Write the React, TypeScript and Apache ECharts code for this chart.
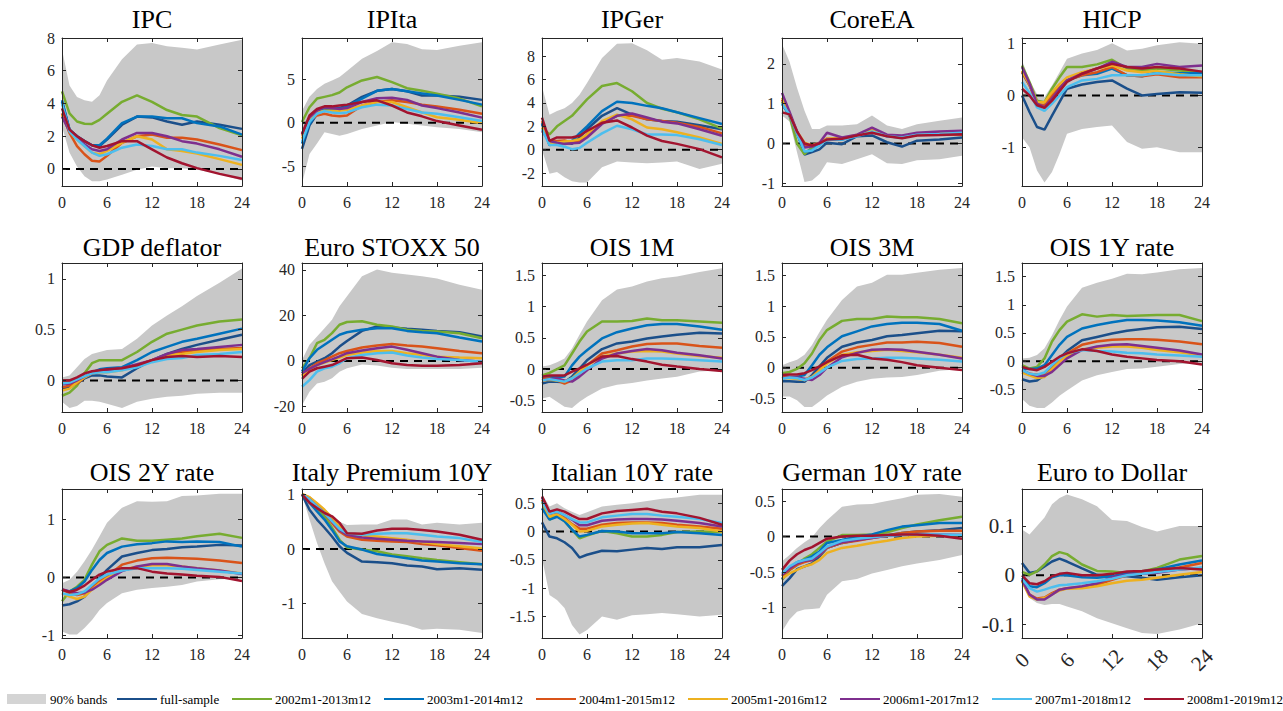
import React, { useEffect, useRef } from "react";
import * as echarts from "echarts";

// Horizon (months) at which responses are read
const MONTHS = [0, 1, 2, 3, 4, 5, 6, 8, 10, 12, 14, 16, 18, 21, 24];

const SERIES_NAMES = [
  "full-sample",
  "2002m1-2013m12",
  "2003m1-2014m12",
  "2004m1-2015m12",
  "2005m1-2016m12",
  "2006m1-2017m12",
  "2007m1-2018m12",
  "2008m1-2019m12",
];
const SERIES_COLORS = ["#1b4f8a", "#77ac30", "#0072bd", "#d95319", "#edb120", "#7e2f8e", "#4dbeee", "#a2142f"];
const BAND_NAME = "90% bands";

// ---- IPC ----
const IPC_LINES = [
  [4.1, 2.4, 2.0, 1.7, 1.45, 1.4, 1.8, 2.7, 3.2, 3.15, 2.9, 2.7, 2.9, 2.7, 2.45],
  [4.74, 3.4, 2.9, 2.76, 2.75, 3.0, 3.37, 4.1, 4.5, 4.1, 3.6, 3.3, 3.2, 2.5, 2.05],
  [4.2, 2.4, 2.0, 1.7, 1.45, 1.45, 1.85, 2.8, 3.2, 3.2, 3.1, 3.1, 2.8, 2.6, 2.1],
  [3.4, 2.2, 1.4, 0.9, 0.5, 0.45, 0.8, 1.6, 2.0, 2.1, 1.9, 1.9, 1.8, 1.5, 1.15],
  [3.3, 2.3, 1.8, 1.4, 1.0, 0.9, 1.1, 1.6, 2.0, 1.8, 1.2, 1.1, 0.95, 0.6, 0.25],
  [3.2, 2.3, 1.9, 1.5, 1.2, 1.1, 1.2, 1.8, 2.2, 2.2, 2.0, 1.7, 1.55, 1.2, 0.75],
  [4.0, 2.3, 1.8, 1.4, 1.0, 0.8, 0.9, 1.3, 1.5, 1.4, 1.2, 1.2, 1.0, 0.8, 0.55],
  [3.7, 2.4, 2.0, 1.7, 1.45, 1.3, 1.4, 1.7, 1.7, 1.2, 0.7, 0.35, 0.05, -0.3, -0.6],
];
const IPC_HI = [7.3, 5.1, 4.4, 4.2, 4.1, 4.5, 5.4, 6.7, 7.6, 7.7, 7.5, 7.4, 7.3, 7.6, 7.9];
const IPC_LO = [2.6, 1.0, 0.15, -0.45, -0.75, -0.75, -0.65, -0.35, -0.05, 0.15, 0.05, 0.05, -0.05, -0.3, -0.7];

// ---- IPIta ----
const IPITA_LINES = [
  [-3.0, -0.3, 1.0, 1.6, 1.6, 1.7, 2.0, 3.0, 3.7, 3.9, 3.65, 3.15, 3.15, 3.0, 2.65],
  [0.1, 1.8, 2.8, 3.0, 3.2, 3.5, 4.1, 4.9, 5.3, 4.7, 4.0, 3.7, 3.35, 2.8, 1.9],
  [-2.4, -0.1, 1.2, 1.7, 1.7, 1.6, 1.9, 2.8, 3.7, 3.9, 3.65, 3.4, 3.15, 2.65, 2.1],
  [-1.5, 0.3, 0.85, 1.05, 0.85, 0.75, 0.85, 2.0, 2.4, 2.6, 2.4, 2.1, 1.9, 1.5, 1.05],
  [-1.85, 0.3, 1.2, 1.4, 1.4, 1.4, 1.5, 2.0, 2.4, 2.4, 1.8, 1.2, 0.65, 0.35, -0.05],
  [-1.3, 0.65, 1.4, 1.8, 1.7, 1.6, 1.7, 2.4, 2.85, 2.9, 2.65, 2.0, 1.7, 1.2, 0.6],
  [-2.2, 0.1, 1.05, 1.35, 1.2, 1.1, 1.2, 1.8, 2.1, 2.0, 1.6, 1.2, 1.05, 0.65, 0.2],
  [-1.3, 0.85, 1.6, 1.9, 1.9, 2.0, 2.1, 2.4, 2.6, 2.0, 1.2, 0.75, 0.2, -0.3, -0.8],
];
const IPITA_HI = [1.4, 3.0, 3.9, 4.5, 4.9, 5.3, 6.0, 7.4, 8.3, 9.3, 9.1, 8.5, 8.4, 8.9, 9.3];
const IPITA_LO = [-7.0, -3.6, -2.4, -1.1, -1.3, -1.5, -1.3, -0.7, -0.3, 0.1, -0.1, -0.3, -0.5, -0.7, -1.1];

// ---- IPGer ----
const IPGER_LINES = [
  [2.2, 0.4, 0.5, 0.6, 0.5, 1.05, 1.75, 2.9, 3.55, 3.0, 2.6, 2.45, 2.4, 2.1, 1.75],
  [1.9, 1.3, 2.0, 2.45, 2.9, 3.6, 4.3, 5.45, 5.7, 5.0, 4.0, 3.5, 3.2, 2.6, 1.8],
  [2.3, 0.5, 0.5, 0.6, 0.75, 1.4, 2.0, 3.3, 4.1, 4.0, 3.75, 3.55, 3.2, 2.7, 2.2],
  [2.45, 0.75, 0.75, 0.8, 0.6, 0.75, 1.3, 2.3, 2.9, 2.9, 2.6, 2.45, 2.3, 1.95, 1.4],
  [1.9, 0.6, 0.6, 0.7, 0.75, 0.9, 1.3, 2.45, 3.0, 2.6, 1.9, 1.75, 1.5, 1.05, 0.5],
  [1.6, 0.75, 0.6, 0.5, 0.55, 0.6, 1.05, 2.2, 2.9, 3.1, 2.75, 2.4, 2.25, 1.75, 1.2],
  [1.75, 0.4, 0.4, 0.25, 0.05, 0.15, 0.6, 1.4, 2.05, 1.75, 1.3, 1.3, 1.25, 0.9, 0.4],
  [2.75, 0.75, 1.05, 1.05, 1.05, 1.2, 1.6, 2.3, 2.5, 1.9, 1.2, 0.75, 0.5, 0.05, -0.65],
];
const IPGER_HI = [5.4, 3.0, 3.3, 3.55, 4.0, 4.7, 5.7, 7.85, 9.05, 9.1, 8.5, 7.7, 7.85, 7.55, 6.85];
const IPGER_LO = [0.0, -2.05, -1.9, -2.35, -2.7, -2.8, -2.8, -1.5, -1.0, -1.1, -1.15, -1.1, -1.0, -1.65, -1.2];

// ---- CoreEA ----
const COREEA_LINES = [
  [1.0, 0.7, 0.3, -0.28, -0.22, -0.15, 0.02, -0.02, 0.18, 0.2, 0.03, -0.08, 0.07, 0.1, 0.15],
  [1.05, 0.7, 0.0, -0.27, -0.1, 0.0, 0.1, 0.12, 0.2, 0.33, 0.2, 0.15, 0.22, 0.24, 0.25],
  [1.0, 0.72, 0.25, -0.2, -0.18, -0.02, 0.1, 0.1, 0.2, 0.33, 0.18, 0.15, 0.22, 0.24, 0.26],
  [1.1, 0.72, 0.25, -0.05, -0.05, 0.0, 0.12, 0.12, 0.2, 0.33, 0.2, 0.15, 0.22, 0.23, 0.22],
  [1.15, 0.75, 0.3, 0.02, -0.05, 0.02, 0.12, 0.13, 0.22, 0.35, 0.2, 0.17, 0.24, 0.25, 0.26],
  [1.27, 0.8, 0.3, -0.1, -0.08, 0.02, 0.27, 0.15, 0.22, 0.4, 0.22, 0.2, 0.27, 0.3, 0.32],
  [1.0, 0.72, 0.25, -0.2, -0.18, -0.05, 0.1, 0.1, 0.18, 0.3, 0.18, 0.15, 0.22, 0.24, 0.27],
  [0.78, 0.73, 0.3, 0.0, -0.05, 0.0, 0.1, 0.12, 0.2, 0.27, 0.18, 0.13, 0.2, 0.21, 0.23],
];
const COREEA_HI = [2.5, 2.05, 1.4, 0.82, 0.36, 0.36, 0.45, 0.45, 0.48, 0.7, 0.45, 0.36, 0.48, 0.57, 0.65];
const COREEA_LO = [0.7, 0.55, -0.22, -0.97, -0.93, -0.77, -0.47, -0.52, -0.4, -0.27, -0.5, -0.52, -0.42, -0.4, -0.31];

// ---- HICP ----
const HICP_LINES = [
  [0.0, -0.32, -0.61, -0.66, -0.39, -0.13, 0.13, 0.21, 0.26, 0.29, 0.13, 0.0, 0.03, 0.06, 0.05],
  [0.58, 0.26, -0.1, -0.13, 0.13, 0.35, 0.55, 0.55, 0.6, 0.69, 0.52, 0.48, 0.52, 0.48, 0.45],
  [0.45, 0.2, -0.16, -0.21, -0.03, 0.15, 0.29, 0.39, 0.42, 0.52, 0.39, 0.37, 0.45, 0.43, 0.43],
  [0.45, 0.2, -0.16, -0.19, 0.0, 0.15, 0.29, 0.39, 0.45, 0.55, 0.39, 0.37, 0.41, 0.35, 0.35],
  [0.48, 0.22, -0.13, -0.13, 0.06, 0.22, 0.35, 0.45, 0.52, 0.58, 0.48, 0.45, 0.47, 0.41, 0.37],
  [0.55, 0.23, -0.16, -0.23, -0.06, 0.13, 0.29, 0.42, 0.52, 0.65, 0.55, 0.55, 0.61, 0.55, 0.58],
  [0.26, 0.05, -0.23, -0.3, -0.16, 0.0, 0.16, 0.29, 0.32, 0.39, 0.39, 0.39, 0.43, 0.39, 0.39],
  [0.13, 0.0, -0.19, -0.24, -0.1, 0.08, 0.26, 0.42, 0.52, 0.61, 0.55, 0.52, 0.55, 0.52, 0.46],
];
const HICP_HI = [0.68, 0.29, 0.03, -0.03, 0.19, 0.45, 0.71, 0.81, 0.88, 1.01, 0.87, 0.9, 0.97, 1.03, 1.0];
const HICP_LO = [-0.81, -1.0, -1.45, -1.68, -1.48, -1.13, -0.74, -0.65, -0.61, -0.58, -0.9, -1.03, -1.0, -1.1, -1.1];

// ---- GDP deflator ----
const GDP_LINES = [
  [-0.08, -0.07, -0.03, 0.02, 0.05, 0.05, 0.04, 0.03, 0.12, 0.2, 0.26, 0.31, 0.35, 0.4, 0.45],
  [-0.15, -0.12, -0.05, 0.07, 0.17, 0.2, 0.2, 0.2, 0.28, 0.38, 0.46, 0.5, 0.54, 0.58, 0.6],
  [-0.03, -0.03, 0.0, 0.03, 0.08, 0.11, 0.12, 0.13, 0.2, 0.28, 0.33, 0.38, 0.41, 0.46, 0.51],
  [-0.07, -0.05, -0.03, 0.03, 0.07, 0.09, 0.1, 0.12, 0.15, 0.2, 0.25, 0.28, 0.3, 0.31, 0.32],
  [-0.1, -0.08, -0.02, 0.03, 0.07, 0.08, 0.08, 0.1, 0.15, 0.2, 0.25, 0.26, 0.28, 0.3, 0.31],
  [-0.04, -0.03, 0.0, 0.04, 0.07, 0.09, 0.1, 0.12, 0.16, 0.2, 0.26, 0.3, 0.31, 0.33, 0.35],
  [-0.03, -0.02, 0.01, 0.04, 0.07, 0.08, 0.08, 0.1, 0.13, 0.18, 0.21, 0.22, 0.25, 0.26, 0.28],
  [0.0, 0.0, 0.03, 0.07, 0.09, 0.1, 0.11, 0.12, 0.15, 0.2, 0.23, 0.24, 0.23, 0.24, 0.23],
];
const GDP_HI = [0.03, 0.05, 0.13, 0.21, 0.26, 0.28, 0.3, 0.31, 0.41, 0.54, 0.64, 0.73, 0.83, 0.96, 1.1];
const GDP_LO = [-0.21, -0.27, -0.25, -0.2, -0.2, -0.21, -0.23, -0.27, -0.21, -0.18, -0.16, -0.15, -0.13, -0.12, -0.12];

// ---- Euro STOXX 50 ----
const STOXX_LINES = [
  [-5.4, -1.8, -0.3, 1.2, 3.4, 6.3, 8.8, 13.2, 15.1, 14.7, 14.1, 13.7, 13.2, 12.6, 10.7],
  [-3.2, 1.2, 7.8, 9.3, 12.2, 15.9, 17.1, 17.4, 15.9, 15.1, 13.7, 13.2, 12.9, 12.2, 10.0],
  [-4.7, 1.2, 4.9, 7.1, 9.3, 11.5, 12.6, 13.7, 14.4, 14.4, 13.2, 12.6, 12.2, 10.3, 8.5],
  [-6.2, -3.2, -1.0, 0.4, 1.9, 3.4, 4.4, 5.9, 6.8, 7.4, 6.8, 6.3, 5.6, 4.4, 3.4],
  [-6.9, -4.0, -1.8, -0.7, 0.4, 1.5, 2.6, 3.7, 4.4, 4.4, 3.4, 2.6, 1.9, 1.5, 1.2],
  [-5.4, -3.5, -1.8, -0.5, 0.7, 2.0, 3.4, 4.6, 5.6, 6.3, 4.9, 3.4, 1.9, 0.4, -0.3],
  [-11.3, -8.4, -4.7, -3.2, -2.5, -1.0, 1.2, 2.6, 3.4, 3.7, 2.4, 1.5, 0.9, 0.4, -0.3],
  [-7.9, -4.7, -3.2, -2.5, -1.8, -0.3, 1.2, 1.5, 0.4, -1.0, -1.8, -2.1, -2.1, -1.8, -1.0],
];
const STOXX_HI = [0.4, 7.1, 10.7, 14.4, 18.1, 24.0, 28.4, 37.2, 40.1, 38.7, 37.9, 37.2, 36.2, 33.5, 31.3];
const STOXX_LO = [-19.4, -13.5, -9.9, -9.1, -7.6, -4.7, -3.2, -1.5, -2.0, -3.0, -3.5, -3.5, -3.5, -3.5, -3.0];

// ---- OIS 1M ----
const OIS1M_LINES = [
  [-0.23, -0.2, -0.2, -0.21, -0.12, 0.01, 0.14, 0.32, 0.41, 0.44, 0.49, 0.52, 0.55, 0.58, 0.57],
  [-0.1, -0.06, 0.0, 0.06, 0.25, 0.44, 0.6, 0.76, 0.76, 0.77, 0.81, 0.78, 0.78, 0.76, 0.74],
  [-0.15, -0.12, -0.13, -0.12, 0.06, 0.2, 0.3, 0.49, 0.59, 0.65, 0.7, 0.72, 0.72, 0.68, 0.63],
  [-0.15, -0.15, -0.18, -0.23, -0.18, -0.07, 0.06, 0.25, 0.3, 0.36, 0.4, 0.41, 0.41, 0.37, 0.34],
  [-0.18, -0.17, -0.18, -0.2, -0.15, -0.04, 0.06, 0.2, 0.25, 0.28, 0.29, 0.28, 0.25, 0.21, 0.18],
  [-0.18, -0.16, -0.15, -0.18, -0.2, -0.12, -0.02, 0.17, 0.25, 0.29, 0.32, 0.3, 0.26, 0.22, 0.17],
  [-0.18, -0.16, -0.18, -0.2, -0.15, -0.07, 0.01, 0.12, 0.14, 0.14, 0.17, 0.17, 0.16, 0.14, 0.12],
  [-0.12, -0.1, -0.1, -0.1, -0.04, 0.01, 0.07, 0.2, 0.21, 0.16, 0.12, 0.07, 0.04, 0.0, -0.03],
];
const OIS1M_HI = [0.04, 0.06, 0.11, 0.17, 0.33, 0.55, 0.76, 1.1, 1.27, 1.32, 1.4, 1.45, 1.48, 1.55, 1.61];
const OIS1M_LO = [-0.47, -0.44, -0.52, -0.6, -0.62, -0.52, -0.44, -0.31, -0.25, -0.22, -0.18, -0.15, -0.12, -0.04, -0.02];

// ---- OIS 3M ----
const OIS3M_LINES = [
  [-0.22, -0.22, -0.23, -0.23, -0.12, 0.02, 0.16, 0.34, 0.41, 0.45, 0.51, 0.53, 0.56, 0.6, 0.59],
  [-0.09, -0.07, -0.02, 0.07, 0.23, 0.45, 0.61, 0.76, 0.79, 0.79, 0.83, 0.82, 0.82, 0.79, 0.72],
  [-0.15, -0.15, -0.15, -0.12, 0.04, 0.21, 0.33, 0.51, 0.59, 0.67, 0.71, 0.73, 0.73, 0.71, 0.6],
  [-0.15, -0.16, -0.17, -0.2, -0.15, -0.04, 0.1, 0.26, 0.33, 0.37, 0.41, 0.41, 0.42, 0.4, 0.34],
  [-0.17, -0.17, -0.18, -0.2, -0.15, -0.05, 0.07, 0.21, 0.25, 0.27, 0.29, 0.27, 0.25, 0.21, 0.16],
  [-0.17, -0.16, -0.16, -0.18, -0.2, -0.12, 0.0, 0.17, 0.24, 0.29, 0.3, 0.29, 0.26, 0.21, 0.15],
  [-0.18, -0.16, -0.17, -0.2, -0.16, -0.08, 0.0, 0.11, 0.14, 0.15, 0.16, 0.16, 0.15, 0.13, 0.1],
  [-0.12, -0.11, -0.11, -0.09, -0.04, 0.02, 0.09, 0.2, 0.21, 0.15, 0.13, 0.09, 0.04, 0.0, -0.04],
];
const OIS3M_HI = [0.04, 0.09, 0.13, 0.21, 0.37, 0.58, 0.78, 1.1, 1.32, 1.38, 1.51, 1.51, 1.54, 1.59, 1.62];
const OIS3M_LO = [-0.47, -0.47, -0.53, -0.64, -0.64, -0.55, -0.45, -0.31, -0.23, -0.18, -0.16, -0.15, -0.12, -0.05, -0.02];

// ---- OIS 1Y rate ----
const OIS1Y_LINES = [
  [-0.32, -0.36, -0.34, -0.25, -0.1, 0.05, 0.18, 0.37, 0.43, 0.49, 0.54, 0.57, 0.6, 0.61, 0.57],
  [-0.07, -0.13, -0.1, 0.05, 0.35, 0.55, 0.7, 0.83, 0.79, 0.82, 0.8, 0.81, 0.82, 0.82, 0.71],
  [-0.13, -0.14, -0.13, -0.07, 0.11, 0.29, 0.43, 0.58, 0.64, 0.69, 0.73, 0.73, 0.72, 0.69, 0.63],
  [-0.19, -0.22, -0.24, -0.22, -0.1, 0.05, 0.14, 0.29, 0.35, 0.38, 0.39, 0.39, 0.38, 0.35, 0.3],
  [-0.2, -0.25, -0.3, -0.28, -0.14, -0.01, 0.1, 0.21, 0.24, 0.26, 0.26, 0.24, 0.2, 0.16, 0.1],
  [-0.16, -0.22, -0.26, -0.26, -0.19, -0.07, 0.05, 0.2, 0.26, 0.29, 0.3, 0.27, 0.24, 0.19, 0.12],
  [-0.16, -0.22, -0.24, -0.2, -0.07, 0.05, 0.14, 0.2, 0.18, 0.17, 0.15, 0.14, 0.12, 0.1, 0.08],
  [-0.1, -0.14, -0.16, -0.1, -0.01, 0.08, 0.14, 0.21, 0.18, 0.12, 0.08, 0.05, 0.02, 0.0, -0.06],
];
const OIS1Y_HI = [0.05, 0.06, 0.11, 0.23, 0.46, 0.73, 0.97, 1.3, 1.39, 1.46, 1.55, 1.54, 1.57, 1.63, 1.65];
const OIS1Y_LO = [-0.67, -0.79, -0.83, -0.83, -0.73, -0.61, -0.52, -0.34, -0.25, -0.19, -0.14, -0.13, -0.1, -0.05, -0.03];

// ---- OIS 2Y rate ----
const OIS2Y_LINES = [
  [-0.48, -0.46, -0.41, -0.33, -0.18, -0.01, 0.13, 0.36, 0.42, 0.47, 0.49, 0.52, 0.53, 0.56, 0.55],
  [-0.41, -0.24, -0.16, -0.04, 0.22, 0.45, 0.56, 0.67, 0.63, 0.63, 0.65, 0.67, 0.71, 0.75, 0.68],
  [-0.21, -0.24, -0.18, -0.07, 0.13, 0.3, 0.42, 0.53, 0.57, 0.59, 0.62, 0.61, 0.62, 0.61, 0.53],
  [-0.21, -0.27, -0.3, -0.27, -0.18, -0.07, 0.02, 0.22, 0.29, 0.33, 0.34, 0.33, 0.32, 0.29, 0.25],
  [-0.27, -0.33, -0.37, -0.33, -0.21, -0.1, -0.01, 0.13, 0.19, 0.21, 0.21, 0.19, 0.16, 0.12, 0.07],
  [-0.2, -0.24, -0.27, -0.26, -0.21, -0.13, -0.04, 0.11, 0.19, 0.23, 0.23, 0.19, 0.16, 0.12, 0.06],
  [-0.27, -0.3, -0.29, -0.24, -0.13, -0.02, 0.05, 0.12, 0.16, 0.16, 0.16, 0.15, 0.13, 0.1, 0.07],
  [-0.21, -0.25, -0.21, -0.14, -0.04, 0.05, 0.1, 0.16, 0.16, 0.1, 0.07, 0.05, 0.03, 0.01, -0.06],
];
const OIS2Y_HI = [-0.1, -0.04, 0.1, 0.28, 0.48, 0.71, 0.94, 1.2, 1.31, 1.3, 1.31, 1.4, 1.41, 1.44, 1.44];
const OIS2Y_LO = [-0.93, -0.98, -0.98, -0.87, -0.73, -0.56, -0.44, -0.27, -0.21, -0.18, -0.16, -0.13, -0.07, -0.03, -0.02];

// ---- Italy Premium 10Y ----
const ITPREM_LINES = [
  [1.0, 0.72, 0.54, 0.39, 0.23, 0.05, -0.07, -0.23, -0.24, -0.26, -0.3, -0.32, -0.37, -0.35, -0.38],
  [1.0, 0.87, 0.75, 0.6, 0.39, 0.17, 0.03, -0.01, -0.04, -0.1, -0.13, -0.17, -0.2, -0.24, -0.28],
  [1.0, 0.85, 0.69, 0.54, 0.35, 0.14, 0.05, -0.01, -0.09, -0.13, -0.17, -0.21, -0.23, -0.26, -0.28],
  [1.0, 0.94, 0.81, 0.66, 0.48, 0.32, 0.23, 0.17, 0.15, 0.14, 0.13, 0.09, 0.07, 0.02, -0.03],
  [1.01, 0.95, 0.84, 0.72, 0.57, 0.42, 0.29, 0.25, 0.23, 0.2, 0.17, 0.13, 0.09, 0.05, 0.01],
  [1.0, 0.91, 0.78, 0.66, 0.51, 0.35, 0.26, 0.21, 0.19, 0.17, 0.15, 0.14, 0.13, 0.11, 0.09],
  [1.0, 0.91, 0.78, 0.66, 0.51, 0.37, 0.29, 0.26, 0.28, 0.29, 0.29, 0.26, 0.23, 0.2, 0.13],
  [1.0, 0.85, 0.75, 0.66, 0.6, 0.48, 0.29, 0.28, 0.34, 0.37, 0.37, 0.35, 0.32, 0.26, 0.17],
];
const ITPREM_HI = [1.0, 0.97, 0.86, 0.74, 0.62, 0.5, 0.44, 0.45, 0.45, 0.54, 0.54, 0.45, 0.48, 0.45, 0.48];
const ITPREM_LO = [1.0, 0.54, 0.11, -0.26, -0.59, -0.78, -0.96, -1.19, -1.27, -1.33, -1.39, -1.48, -1.46, -1.48, -1.54];

// ---- Italian 10Y rate ----
const IT10_LINES = [
  [0.16, -0.09, -0.12, -0.19, -0.29, -0.46, -0.41, -0.34, -0.35, -0.32, -0.29, -0.31, -0.28, -0.28, -0.24],
  [0.53, 0.21, 0.29, 0.18, 0.03, -0.12, -0.07, 0.01, -0.03, -0.09, -0.09, -0.06, -0.01, 0.0, -0.01],
  [0.41, 0.21, 0.26, 0.18, 0.03, -0.09, -0.06, 0.01, 0.0, -0.03, -0.03, -0.03, -0.01, -0.03, -0.06],
  [0.56, 0.29, 0.32, 0.24, 0.13, 0.05, 0.05, 0.12, 0.15, 0.16, 0.16, 0.15, 0.12, 0.09, 0.05],
  [0.53, 0.26, 0.31, 0.22, 0.12, 0.0, 0.01, 0.09, 0.12, 0.14, 0.15, 0.12, 0.09, 0.06, 0.0],
  [0.6, 0.32, 0.35, 0.29, 0.21, 0.11, 0.11, 0.19, 0.21, 0.22, 0.22, 0.21, 0.19, 0.15, 0.09],
  [0.53, 0.31, 0.35, 0.29, 0.22, 0.16, 0.16, 0.25, 0.28, 0.31, 0.31, 0.28, 0.26, 0.22, 0.15],
  [0.62, 0.35, 0.39, 0.35, 0.28, 0.22, 0.22, 0.32, 0.36, 0.38, 0.4, 0.35, 0.32, 0.24, 0.12],
];
const IT10_HI = [0.66, 0.44, 0.5, 0.41, 0.35, 0.29, 0.34, 0.44, 0.47, 0.5, 0.54, 0.58, 0.6, 0.65, 0.65];
const IT10_LO = [-0.47, -1.12, -1.21, -1.35, -1.65, -1.82, -1.74, -1.5, -1.56, -1.48, -1.46, -1.44, -1.46, -1.5, -1.47];

// ---- German 10Y rate ----
const DE10_LINES = [
  [-0.7, -0.59, -0.46, -0.42, -0.38, -0.28, -0.16, -0.09, -0.05, 0.0, 0.02, 0.05, 0.07, 0.09, 0.12],
  [-0.61, -0.47, -0.4, -0.31, -0.25, -0.16, -0.07, 0.02, 0.02, 0.03, 0.06, 0.12, 0.17, 0.23, 0.28],
  [-0.6, -0.47, -0.36, -0.33, -0.28, -0.21, -0.09, -0.05, 0.0, 0.03, 0.09, 0.14, 0.16, 0.19, 0.19],
  [-0.56, -0.47, -0.4, -0.36, -0.33, -0.26, -0.16, -0.09, -0.06, -0.02, 0.01, 0.05, 0.07, 0.08, 0.08],
  [-0.59, -0.52, -0.47, -0.42, -0.39, -0.33, -0.23, -0.16, -0.13, -0.09, -0.06, -0.02, 0.0, 0.01, 0.02],
  [-0.54, -0.45, -0.38, -0.34, -0.33, -0.26, -0.15, -0.08, -0.05, -0.02, 0.01, 0.02, 0.03, 0.03, 0.02],
  [-0.52, -0.42, -0.36, -0.33, -0.31, -0.23, -0.14, -0.06, -0.03, -0.01, 0.01, 0.02, 0.03, 0.03, 0.02],
  [-0.47, -0.34, -0.25, -0.19, -0.15, -0.09, -0.03, 0.0, 0.01, 0.01, 0.02, 0.03, 0.03, 0.01, -0.03],
];
const DE10_HI = [-0.35, -0.26, -0.16, -0.08, -0.01, 0.12, 0.23, 0.42, 0.45, 0.46, 0.5, 0.54, 0.59, 0.6, 0.56];
const DE10_LO = [-1.34, -1.17, -1.06, -1.03, -1.02, -1.01, -0.82, -0.63, -0.6, -0.52, -0.47, -0.42, -0.38, -0.33, -0.26];

// ---- Euro to Dollar ----
const EURUSD_LINES = [
  [0.025, 0.005, 0.008, 0.018, 0.028, 0.034, 0.028, 0.014, 0.001, -0.002, -0.002, -0.005, -0.009, -0.004, 0.0],
  [0.007, 0.001, 0.008, 0.022, 0.039, 0.047, 0.043, 0.022, 0.009, 0.008, 0.005, 0.008, 0.015, 0.032, 0.039],
  [-0.005, -0.022, -0.024, -0.016, -0.004, 0.0, 0.0, -0.004, -0.005, -0.002, 0.005, 0.008, 0.012, 0.022, 0.03],
  [-0.011, -0.039, -0.047, -0.045, -0.036, -0.029, -0.026, -0.024, -0.019, -0.009, 0.0, 0.005, 0.008, 0.016, 0.025],
  [-0.012, -0.043, -0.049, -0.046, -0.038, -0.031, -0.027, -0.026, -0.022, -0.016, -0.011, -0.009, -0.005, 0.001, 0.007],
  [-0.009, -0.039, -0.049, -0.049, -0.039, -0.029, -0.026, -0.022, -0.016, -0.004, 0.001, 0.003, 0.005, 0.012, 0.015],
  [-0.007, -0.026, -0.033, -0.029, -0.024, -0.02, -0.019, -0.016, -0.012, -0.007, 0.0, 0.003, 0.007, 0.012, 0.016],
  [0.0, -0.016, -0.018, -0.012, -0.002, 0.003, 0.005, 0.0, 0.0, 0.003, 0.008, 0.009, 0.012, 0.015, 0.012],
];
const EURUSD_HI = [0.093, 0.083, 0.1, 0.117, 0.144, 0.157, 0.164, 0.154, 0.14, 0.112, 0.11, 0.098, 0.089, 0.1, 0.1];
const EURUSD_LO = [-0.016, -0.046, -0.056, -0.06, -0.058, -0.058, -0.063, -0.073, -0.087, -0.097, -0.107, -0.117, -0.119, -0.11, -0.097];

// ---- y-axis ranges and tick labels per panel ----
const PANELS = [
  { title: "IPC", lines: IPC_LINES, hi: IPC_HI, lo: IPC_LO, yMin: -1.04, yMax: 8, yTicks: [0, 2, 4, 6, 8] },
  { title: "IPIta", lines: IPITA_LINES, hi: IPITA_HI, lo: IPITA_LO, yMin: -7.3, yMax: 9.8, yTicks: [-5, 0, 5] },
  { title: "IPGer", lines: IPGER_LINES, hi: IPGER_HI, lo: IPGER_LO, yMin: -3.1, yMax: 9.55, yTicks: [-2, 0, 2, 4, 6, 8] },
  { title: "CoreEA", lines: COREEA_LINES, hi: COREEA_HI, lo: COREEA_LO, yMin: -1.07, yMax: 2.65, yTicks: [-1, 0, 1, 2] },
  { title: "HICP", lines: HICP_LINES, hi: HICP_HI, lo: HICP_LO, yMin: -1.75, yMax: 1.11, yTicks: [-1, 0, 1] },
  { title: "GDP deflator", lines: GDP_LINES, hi: GDP_HI, lo: GDP_LO, yMin: -0.31, yMax: 1.155, yTicks: [0, 0.5, 1] },
  { title: "Euro STOXX 50", lines: STOXX_LINES, hi: STOXX_HI, lo: STOXX_LO, yMin: -22.4, yMax: 43, yTicks: [-20, 0, 20, 40] },
  { title: "OIS 1M", lines: OIS1M_LINES, hi: OIS1M_HI, lo: OIS1M_LO, yMin: -0.685, yMax: 1.695, yTicks: [-0.5, 0, 0.5, 1, 1.5] },
  { title: "OIS 3M", lines: OIS3M_LINES, hi: OIS3M_HI, lo: OIS3M_LO, yMin: -0.72, yMax: 1.7, yTicks: [-0.5, 0, 0.5, 1, 1.5] },
  { title: "OIS 1Y rate", lines: OIS1Y_LINES, hi: OIS1Y_HI, lo: OIS1Y_LO, yMin: -0.9, yMax: 1.74, yTicks: [-0.5, 0, 0.5, 1, 1.5] },
  { title: "OIS 2Y rate", lines: OIS2Y_LINES, hi: OIS2Y_HI, lo: OIS2Y_LO, yMin: -1.04, yMax: 1.52, yTicks: [-1, 0, 1] },
  { title: "Italy Premium 10Y", lines: ITPREM_LINES, hi: ITPREM_HI, lo: ITPREM_LO, yMin: -1.63, yMax: 1.1, yTicks: [-1, 0, 1] },
  { title: "Italian 10Y rate", lines: IT10_LINES, hi: IT10_HI, lo: IT10_LO, yMin: -1.88, yMax: 0.75, yTicks: [-1.5, -1, -0.5, 0, 0.5] },
  { title: "German 10Y rate", lines: DE10_LINES, hi: DE10_HI, lo: DE10_LO, yMin: -1.43, yMax: 0.67, yTicks: [-1, -0.5, 0, 0.5] },
  { title: "Euro to Dollar", lines: EURUSD_LINES, hi: EURUSD_HI, lo: EURUSD_LO, yMin: -0.127, yMax: 0.175, yTicks: [-0.1, 0, 0.1], big: true },
];

// ---- layout ----
const COL_LEFT = [62, 302, 542, 782, 1022];
const ROW_TOP = [38, 263, 489];
const ROW_H = [148, 149, 149];
const PLOT_W = 180;
const TITLE_Y = [19, 247, 472];
const FONT = "Liberation Serif";
const AXIS_COLOR = "#262626";
const BAND_COLOR = "#c8c8c8";
const LEGEND_BAND_COLOR = "#d4d4d4";
const LEGEND_LINE_X = [117, 232, 384, 536, 688, 840, 992, 1144];
const LEGEND_Y = 699;

function buildOption() {
  const grid: any[] = [];
  const xAxis: any[] = [];
  const yAxis: any[] = [];
  const series: any[] = [];
  const graphic: any[] = [];

  PANELS.forEach((p: any, i) => {
    const r = Math.floor(i / 5);
    const c = i % 5;
    grid.push({ left: COL_LEFT[c], top: ROW_TOP[r], width: PLOT_W, height: ROW_H[r], show: false });
    const axisLine = { show: true, onZero: false, lineStyle: { color: AXIS_COLOR, width: 1 } };
    const tick = { show: true, inside: true, length: 4, lineStyle: { color: AXIS_COLOR, width: 1 } };
    const fs = p.big ? 21 : 16;
    xAxis.push({
      gridIndex: i, type: "value", position: "bottom", min: 0, max: 24, interval: 6, z: 10,
      axisLine, axisTick: tick, splitLine: { show: false },
      axisLabel: p.big
        ? { fontFamily: FONT, fontSize: fs, color: AXIS_COLOR, margin: 22, rotate: 45, align: "center", verticalAlign: "middle", showMinLabel: true, showMaxLabel: true }
        : { fontFamily: FONT, fontSize: fs, color: AXIS_COLOR, margin: 8, showMinLabel: true, showMaxLabel: true },
    });
    xAxis.push({
      gridIndex: i, type: "value", position: "top", min: 0, max: 24, interval: 6, z: 10,
      axisLine, axisTick: tick, splitLine: { show: false }, axisLabel: { show: false },
    });
    yAxis.push({
      gridIndex: i, type: "value", position: "left", min: p.yMin, max: p.yMax, z: 10,
      axisLine, axisTick: { ...tick, customValues: p.yTicks }, splitLine: { show: false },
      axisLabel: { customValues: p.yTicks, fontFamily: FONT, fontSize: fs, color: AXIS_COLOR, margin: 7 },
    });
    yAxis.push({
      gridIndex: i, type: "value", position: "right", min: p.yMin, max: p.yMax, z: 10,
      axisLine, axisTick: { ...tick, customValues: p.yTicks }, splitLine: { show: false }, axisLabel: { show: false },
    });
    const xi = 2 * i;
    // 90% band: polygon through upper points and back along lower points, placed with the axes' scales
    series.push({
      name: BAND_NAME, type: "custom", xAxisIndex: xi, yAxisIndex: xi, silent: true, z: 1,
      data: [0],
      renderItem: (params: any, api: any) => {
        const upper = MONTHS.map((m, k) => api.coord([m, p.hi[k]]));
        const lower = MONTHS.map((m, k) => api.coord([m, p.lo[k]])).reverse();
        return {
          type: "polygon",
          shape: { points: upper.concat(lower) },
          style: { fill: BAND_COLOR, stroke: "none" },
        };
      },
    });
    series.push({
      type: "line", xAxisIndex: xi, yAxisIndex: xi, silent: true, symbol: "none", z: 2,
      lineStyle: { color: "#000", width: 2, type: [8, 6] }, data: [[0, 0], [24, 0]],
    });
    p.lines.forEach((vals: number[], s: number) => {
      series.push({
        name: SERIES_NAMES[s], type: "line", xAxisIndex: xi, yAxisIndex: xi, symbol: "none", z: 3,
        lineStyle: { color: SERIES_COLORS[s], width: 2.5 }, itemStyle: { color: SERIES_COLORS[s] },
        data: MONTHS.map((m, k) => [m, vals[k]]),
      });
    });
    graphic.push({
      type: "text", x: COL_LEFT[c] + PLOT_W / 2, y: TITLE_Y[r], silent: true,
      style: { text: p.title, fontFamily: FONT, fontSize: 26, fill: "#000", align: "center", verticalAlign: "middle" },
    });
  });

  // legend
  graphic.push({ type: "rect", silent: true, shape: { x: 7, y: LEGEND_Y - 5, width: 39, height: 10 }, style: { fill: LEGEND_BAND_COLOR } });
  graphic.push({
    type: "text", x: 50, y: LEGEND_Y, silent: true,
    style: { text: BAND_NAME, fontFamily: FONT, fontSize: 13, fill: "#000", align: "left", verticalAlign: "middle" },
  });
  SERIES_NAMES.forEach((n, k) => {
    const x0 = LEGEND_LINE_X[k];
    graphic.push({
      type: "line", silent: true, shape: { x1: x0, y1: LEGEND_Y, x2: x0 + 40, y2: LEGEND_Y },
      style: { stroke: SERIES_COLORS[k], lineWidth: 2 },
    });
    graphic.push({
      type: "text", x: x0 + 43, y: LEGEND_Y, silent: true,
      style: { text: n, fontFamily: FONT, fontSize: 13, fill: "#000", align: "left", verticalAlign: "middle" },
    });
  });

  return {
    animation: false,
    backgroundColor: "#ffffff",
    textStyle: { fontFamily: FONT },
    grid, xAxis, yAxis, series, graphic,
  };
}

export default function App() {
  const ref = useRef<HTMLDivElement>(null);
  useEffect(() => {
    if (!ref.current) return;
    const chart = echarts.init(ref.current, null, { renderer: "svg" });
    chart.setOption(buildOption() as any);
    return () => chart.dispose();
  }, []);
  return (
    <div
      ref={ref}
      style={{ position: "fixed", left: 0, top: 0, width: 1283, height: 711, background: "#fff" }}
    />
  );
}
